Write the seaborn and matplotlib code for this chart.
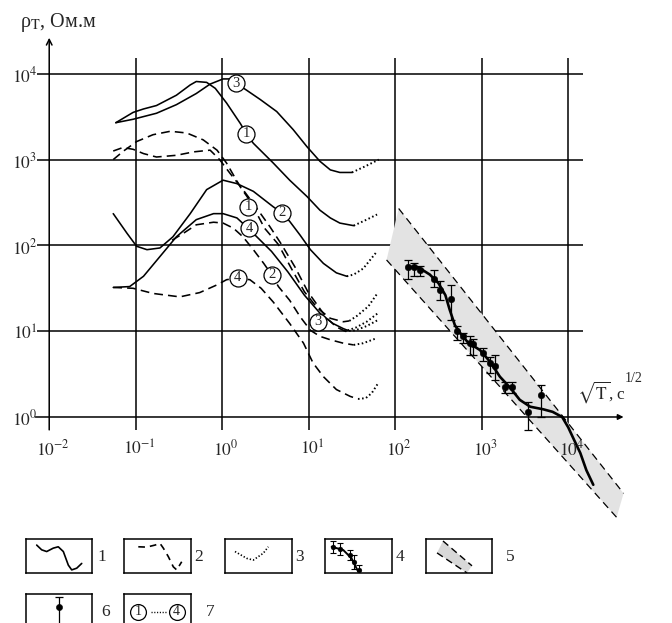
import numpy as np
import matplotlib
matplotlib.use("Agg")
import matplotlib.pyplot as plt
import seaborn as sns

# all values are log10(sqrt T, s^1/2) and log10(rho_T, Ohm m)

# upper group of model curves
c1_lx = [-1.23, -1.03, -0.91, -0.76, -0.53, -0.37, -0.30, -0.18, -0.08, 0.05, 0.21, 0.28,
         0.36, 0.59, 0.78, 0.98, 1.13, 1.25, 1.36, 1.52]
c1_ly = [3.43, 3.55, 3.59, 3.63, 3.75, 3.87, 3.91, 3.90, 3.83, 3.66, 3.42, 3.30,
         3.19, 2.96, 2.76, 2.57, 2.41, 2.32, 2.26, 2.23]
c1_dot_lx = [1.52, 1.67, 1.79]
c1_dot_ly = [2.23, 2.30, 2.36]

c3_lx = [-1.23, -1.03, -0.76, -0.53, -0.30, -0.14, 0.01, 0.11, 0.16, 0.28, 0.44, 0.63,
         0.82, 0.98, 1.13, 1.25, 1.36, 1.50]
c3_ly = [3.43, 3.47, 3.54, 3.64, 3.77, 3.88, 3.94, 3.94, 3.89, 3.81, 3.70, 3.56,
         3.35, 3.15, 2.98, 2.88, 2.85, 2.85]
c3_dot_lx = [1.50, 1.65, 1.81]
c3_dot_ly = [2.85, 2.92, 3.00]

da_lx = [-1.26, -1.14, -0.99, -0.80, -0.60, -0.41, -0.22, -0.06, 0.05, 0.13, 0.21, 0.30,
         0.39, 0.49, 0.65, 0.80, 0.95, 1.10, 1.25, 1.40, 1.47]
da_ly = [3.00, 3.10, 3.21, 3.29, 3.33, 3.31, 3.23, 3.11, 2.96, 2.82, 2.68, 2.55,
         2.39, 2.20, 2.01, 1.73, 1.46, 1.27, 1.15, 1.11, 1.12]
da_dot_lx = [1.47, 1.56, 1.69, 1.80]
da_dot_ly = [1.12, 1.18, 1.29, 1.45]

db_lx = [-1.26, -1.15, -1.03, -0.91, -0.76, -0.53, -0.33, -0.14, -0.03, 0.09, 0.24, 0.38,
         0.55, 0.68, 0.84, 0.99, 1.11, 1.21, 1.32, 1.42]
db_ly = [3.10, 3.14, 3.12, 3.07, 3.03, 3.05, 3.09, 3.11, 3.00, 2.84, 2.65, 2.46,
         2.22, 2.02, 1.75, 1.46, 1.29, 1.15, 1.05, 1.00]
db_dot_lx = [1.42, 1.54, 1.67, 1.80]
db_dot_ly = [1.00, 1.01, 1.06, 1.13]

# lower group of model curves
c2_lx = [-1.26, -1.10, -0.99, -0.87, -0.72, -0.57, -0.37, -0.18, 0.01, 0.17, 0.36, 0.59,
         0.69, 0.78, 0.90, 1.02, 1.17, 1.32, 1.44]
c2_ly = [2.37, 2.14, 1.99, 1.95, 1.97, 2.10, 2.37, 2.65, 2.76, 2.72, 2.63, 2.45,
         2.38, 2.28, 2.12, 1.95, 1.79, 1.68, 1.64]
c2_dot_lx = [1.44, 1.52, 1.63, 1.79]
c2_dot_ly = [1.64, 1.66, 1.73, 1.93]

c4_lx = [-1.26, -1.07, -0.91, -0.72, -0.53, -0.30, -0.10, 0.01, 0.17, 0.30, 0.40, 0.57,
         0.76, 0.95, 1.13, 1.28, 1.40, 1.45]
c4_ly = [1.51, 1.52, 1.64, 1.87, 2.10, 2.30, 2.37, 2.37, 2.32, 2.20, 2.10, 1.93,
         1.69, 1.42, 1.21, 1.09, 1.03, 1.01]
c4_dot_lx = [1.45, 1.54, 1.67, 1.80]
c4_dot_ly = [1.01, 1.04, 1.11, 1.21]

d2_lx = [-0.58, -0.45, -0.30, -0.10, 0.01, 0.13, 0.24, 0.36, 0.48, 0.57, 0.65, 0.78,
         0.90, 1.02, 1.13, 1.25, 1.40, 1.52]
d2_ly = [2.06, 2.14, 2.24, 2.27, 2.26, 2.20, 2.10, 1.95, 1.79, 1.66, 1.52, 1.36,
         1.17, 1.01, 0.94, 0.90, 0.86, 0.84]
d2_dot_lx = [1.52, 1.63, 1.79]
d2_dot_ly = [0.84, 0.86, 0.92]

d4_lx = [-1.26, -1.03, -0.80, -0.49, -0.26, -0.06, 0.05, 0.18, 0.32, 0.45, 0.59, 0.78,
         0.94, 1.05, 1.17, 1.32, 1.48, 1.57]
d4_ly = [1.51, 1.50, 1.44, 1.40, 1.45, 1.54, 1.60, 1.62, 1.60, 1.50, 1.34, 1.09,
         0.86, 0.63, 0.47, 0.32, 0.24, 0.21]
d4_dot_lx = [1.57, 1.66, 1.73, 1.80]
d4_dot_ly = [0.21, 0.22, 0.28, 0.39]

# circled curve numbers
lab_txt = ["3", "1", "1", "2", "4", "4", "2", "3"]
lab_lx = [0.16, 0.275, 0.30, 0.69, 0.31, 0.18, 0.57, 1.11]
lab_ly = [3.89, 3.30, 2.45, 2.38, 2.20, 1.62, 1.66, 1.11]

# observed sounding with error bars
pt_lx = [2.15, 2.22, 2.29, 2.45, 2.52, 2.64, 2.71, 2.78, 2.86, 2.90, 3.01, 3.10, 3.15,
         3.27, 3.35, 3.53, 3.69]
pt_ly = [1.75, 1.75, 1.71, 1.61, 1.48, 1.38, 1.00, 0.94, 0.86, 0.85, 0.74, 0.63, 0.59,
         0.35, 0.35, 0.06, 0.26]
pt_lo = [1.61, 1.64, 1.64, 1.52, 1.36, 1.13, 0.90, 0.86, 0.72, 0.72, 0.65, 0.51, 0.43,
         0.28, 0.28, -0.15, 0.00]
pt_hi = [1.83, 1.80, 1.76, 1.71, 1.58, 1.54, 1.06, 0.98, 0.94, 0.91, 0.80, 0.70, 0.72,
         0.41, 0.41, 0.18, 0.37]

fit_lx = [2.17, 2.29, 2.40, 2.50, 2.58, 2.63, 2.69, 2.75, 2.84, 2.98, 3.10, 3.21, 3.33,
          3.44, 3.56, 3.71, 3.82, 3.93, 4.00, 4.06, 4.14, 4.21, 4.29]
fit_ly = [1.75, 1.73, 1.66, 1.56, 1.42, 1.25, 1.07, 0.98, 0.87, 0.78, 0.64, 0.47, 0.34,
          0.20, 0.12, 0.09, 0.06, 0.00, -0.12, -0.25, -0.42, -0.62, -0.79]

# confidence band
band_up_lx = [2.04, 4.64]
band_up_ly = [2.43, -0.89]
band_lo_lx = [1.90, 4.56]
band_lo_ly = [1.83, -1.17]

dec_x = [-2, -1, 0, 1, 2, 3, 4]
dec_y = [0, 1, 2, 3, 4]

# legend samples (box fractions)
leg1_x = [0.165, 0.24, 0.315, 0.414, 0.489, 0.565, 0.64, 0.691, 0.766, 0.841]
leg1_y = [0.83, 0.69, 0.64, 0.74, 0.78, 0.64, 0.24, 0.10, 0.15, 0.29]
leg2_x = [0.21, 0.336, 0.461, 0.536, 0.586, 0.661, 0.736, 0.787, 0.862]
leg2_y = [0.78, 0.77, 0.83, 0.88, 0.74, 0.49, 0.19, 0.10, 0.34]
leg3_x = [0.15, 0.326, 0.425, 0.575, 0.65]
leg3_y = [0.64, 0.44, 0.39, 0.59, 0.78]
leg4_x = [0.125, 0.225, 0.375, 0.435, 0.511]
leg4_y = [0.77, 0.71, 0.54, 0.34, 0.10]
leg4_err = [0.17, 0.17, 0.15, 0.2, 0.15]
leg4_cx = [0.10, 0.274, 0.399, 0.498]
leg4_cy = [0.78, 0.685, 0.44, 0.05]
leg5_up_x = [0.26, 0.695]
leg5_up_y = [0.95, 0.22]
leg5_lo_x = [0.17, 0.62]
leg5_lo_y = [0.60, 0.01]

sns.set_style("white")
plt.rcParams["font.family"] = ["Liberation Serif", "DejaVu Serif"]
plt.rcParams["mathtext.fontset"] = "stix"

fig = plt.figure(figsize=(6.72, 6.23), dpi=100)
ax = fig.add_axes([0, 0, 1, 1])
ax.set_xscale("log")
ax.set_yscale("log")
ax.set_xlim(10 ** -2.569, 10 ** 5.200)
ax.set_ylim(10 ** -2.401, 10 ** 4.860)
ax.axis("off")

P = lambda v: 10 ** np.asarray(v, dtype=float)

SOLID = dict(lw=1.15)
DASH = dict(lw=1.15, linestyle=(0, (5.5, 3.2)))
DOT = dict(lw=1.4, linestyle=(0, (0.8, 1.3)))


def curve(lx, ly, style):
    sns.lineplot(x=P(lx), y=P(ly), ax=ax, color="black", sort=False,
                 estimator=None, zorder=3, **style)


def sample(target, x, y, style):
    sns.lineplot(x=x, y=y, ax=target, color="black", sort=False,
                 estimator=None, zorder=3, **style)


# grid
ax.vlines(P(dec_x[1:]), P(-0.15), P(4.18), color="black", lw=1.1, zorder=1)
ax.hlines(P(dec_y[1:]), P(-2.14), P(4.17), color="black", lw=1.1, zorder=1)
ax.annotate("", xy=(P(-2), P(4.42)), xytext=(P(-2), P(-0.15)),
            arrowprops=dict(arrowstyle="->", lw=1.1, color="black",
                            mutation_scale=10, shrinkA=0, shrinkB=0))
ax.annotate("", xy=(P(4.64), P(0)), xytext=(P(-2.16), P(0)),
            arrowprops=dict(arrowstyle="-|>", lw=1.1, color="black",
                            mutation_scale=8, shrinkA=0, shrinkB=0))

# band
ax.fill(P(band_up_lx + band_lo_lx[::-1]), P(band_up_ly + band_lo_ly[::-1]),
        color="#e3e3e3", lw=0, zorder=2)
curve(band_up_lx, band_up_ly, dict(lw=0.9, linestyle=(0, (6, 4))))
curve(band_lo_lx, band_lo_ly, dict(lw=0.9, linestyle=(0, (6, 4))))

# model curves
for lx, ly, dlx, dly, st in [
    (c1_lx, c1_ly, c1_dot_lx, c1_dot_ly, SOLID),
    (c3_lx, c3_ly, c3_dot_lx, c3_dot_ly, SOLID),
    (da_lx, da_ly, da_dot_lx, da_dot_ly, DASH),
    (db_lx, db_ly, db_dot_lx, db_dot_ly, DASH),
    (c2_lx, c2_ly, c2_dot_lx, c2_dot_ly, SOLID),
    (c4_lx, c4_ly, c4_dot_lx, c4_dot_ly, SOLID),
    (d2_lx, d2_ly, d2_dot_lx, d2_dot_ly, DASH),
    (d4_lx, d4_ly, d4_dot_lx, d4_dot_ly, DASH),
]:
    curve(lx, ly, st)
    curve(dlx, dly, DOT)

sns.scatterplot(x=P(lab_lx), y=P(lab_ly), s=150, color="white", edgecolor="black",
                linewidth=0.9, zorder=5, ax=ax)
for t, lx, ly in zip(lab_txt, lab_lx, lab_ly):
    ax.text(P(lx), P(ly), t, ha="center", va="center", fontsize=10.5, zorder=6)

# observations
y = P(pt_ly)
ax.errorbar(P(pt_lx), y, yerr=[y - P(pt_lo), P(pt_hi) - y], fmt="none", ecolor="black",
            elinewidth=0.9, capsize=2.8, capthick=0.9, zorder=4)
sns.scatterplot(x=P(pt_lx), y=y, s=22, color="black", edgecolor="black", zorder=5, ax=ax)
curve(fit_lx, fit_ly, dict(lw=1.9))

# tick labels
for k in dec_y:
    ax.text(P(-2.14), P(k - 0.03), rf"$10^{{{k}}}$", ha="right", va="center", fontsize=12.5)
for k in dec_x:
    ax.text(P(k + 0.04), P(-0.38), rf"$10^{{{k}}}$", ha="center", va="center", fontsize=12.5)

fig.text(20 / 672, 1 - 22 / 623, r"ρ$_{\mathrm{T}}$, Ом.м", fontsize=14.5,
         ha="left", va="center")
fig.text(577 / 672, 1 - 392 / 623, r"$\sqrt{\mathrm{T}}$, c", fontsize=12.5,
         ha="left", va="center")
fig.text(625 / 672, 1 - 378 / 623, "1/2", fontsize=10, ha="left", va="center")

# legend boxes
bw, bh = 66.6 / 672, 34 / 623
row1 = 1 - 573.3 / 623
row2 = 1 - 628 / 623
boxes = {}
for name, left, bottom in [("1", 25.7, row1), ("2", 124.3, row1), ("3", 225, row1),
                           ("4", 325, row1), ("5", 425.7, row1),
                           ("6", 25.7, row2), ("7", 124.3, row2)]:
    bx = fig.add_axes([left / 672, bottom, bw, bh])
    bx.set_xlim(0, 1)
    bx.set_ylim(0, 1)
    bx.set_xticks([])
    bx.set_yticks([])
    for s in bx.spines.values():
        s.set_color("black")
        s.set_linewidth(1.1)
    bx.set_facecolor("none")
    boxes[name] = bx

sample(boxes["1"], leg1_x, leg1_y, dict(lw=1.2))
sample(boxes["2"], leg2_x, leg2_y, dict(lw=1.2, linestyle=(0, (4, 3))))
sample(boxes["3"], leg3_x, leg3_y, dict(lw=1.2, linestyle=(0, (0.8, 1.2))))

b4 = boxes["4"]
sample(b4, leg4_cx, leg4_cy, dict(lw=1.4))
b4.errorbar(leg4_x, leg4_y, yerr=leg4_err, fmt="none", ecolor="black", elinewidth=0.8,
            capsize=2, capthick=0.8)
sns.scatterplot(x=leg4_x, y=leg4_y, s=12, color="black", edgecolor="black", ax=b4, zorder=5)

b5 = boxes["5"]
b5.fill(leg5_up_x + leg5_lo_x[::-1], leg5_up_y + leg5_lo_y[::-1], color="#d8d8d8", lw=0)
sample(b5, leg5_up_x, leg5_up_y, dict(lw=1.0, linestyle=(0, (5, 3))))
sample(b5, leg5_lo_x, leg5_lo_y, dict(lw=1.0, linestyle=(0, (5, 3))))

b6 = boxes["6"]
b6.errorbar([0.505], [0.45], yerr=[[0.45], [0.45]], fmt="none", ecolor="black",
            elinewidth=0.9, capsize=3, capthick=0.9)
sns.scatterplot(x=[0.505], y=[0.63], s=20, color="black", edgecolor="black", ax=b6, zorder=5)

b7 = boxes["7"]
sns.scatterplot(x=[0.21, 0.787], y=[0.48, 0.48], s=130, color="white", edgecolor="black",
                linewidth=0.9, ax=b7, zorder=5)
b7.text(0.21, 0.48, "1", ha="center", va="center", fontsize=10, zorder=6)
b7.text(0.787, 0.48, "4", ha="center", va="center", fontsize=10, zorder=6)
sample(b7, [0.40, 0.63], [0.48, 0.48], dict(lw=1.0, linestyle=(0, (0.8, 1.2))))

for t, x, yy in [("1", 101.7, 556.7), ("2", 199, 556.7), ("3", 300, 556.7),
                 ("4", 400, 556.7), ("5", 510, 556.7), ("6", 106, 611.7), ("7", 210, 611.7)]:
    fig.text(x / 672, 1 - yy / 623, t, fontsize=12.5, ha="center", va="center")

fig.savefig("out.png", dpi=100)
